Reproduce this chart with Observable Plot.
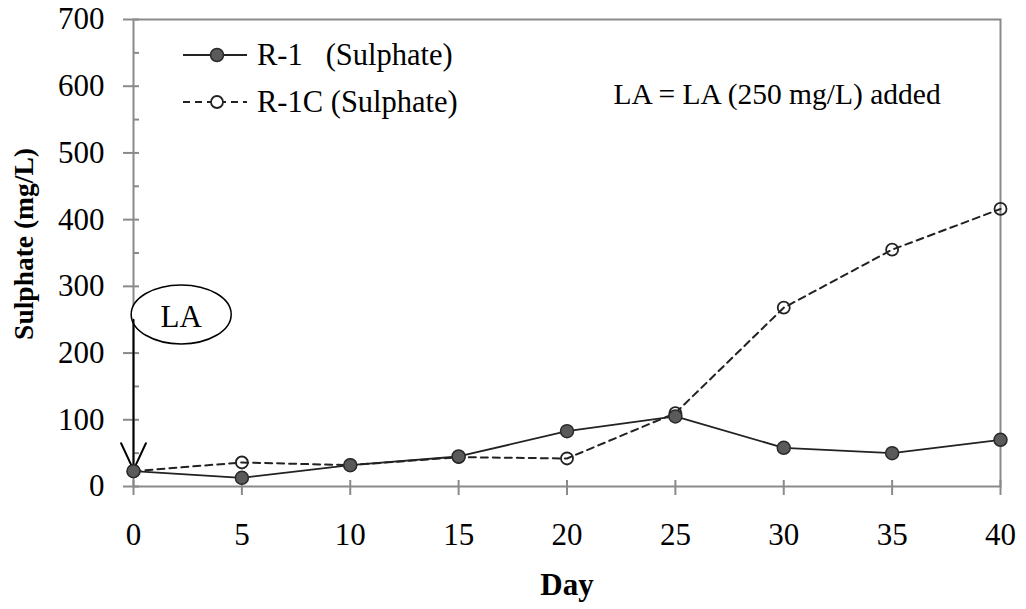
<!DOCTYPE html>
<html><head><meta charset="utf-8">
<script src="https://cdn.jsdelivr.net/npm/d3@7"></script>
<script src="https://cdn.jsdelivr.net/npm/@observablehq/plot@0.6"></script>
<style>
body{margin:0;background:#fff}
#chart{width:1026px;height:609px}
</style>
</head><body><div id="chart"></div>
<script>
// ---- data ----
const days = [0, 5, 10, 15, 20, 25, 30, 35, 40];
const r1 = [23, 13, 32, 45, 83, 105, 58, 50, 70];        // R-1 (Sulphate)
const r1c = [23, 36, 32, 44, 42, 110, 268, 355, 416];    // R-1C (Sulphate)
const seriesNames = ["R-1   (Sulphate)", "R-1C (Sulphate)"];
const xTicks = [0, 5, 10, 15, 20, 25, 30, 35, 40];
const yTicks = [0, 100, 200, 300, 400, 500, 600, 700];
const yMinor = [50, 150, 250, 350, 450, 550, 650];
const xLabel = "Day";
const yLabel = "Sulphate (mg/L)";
const note = "LA = LA (250 mg/L) added";
const laText = ["LA"];
const laDay = [0];
const laFrom = [250];
const laTo = [25];
const laBubbleX = [2.2];
const laBubbleY = [258];

// ---- tables ----
const rowsR1 = days.map((d, i) => ({day: d, v: r1[i]}));
const rowsR1C = days.map((d, i) => ({day: d, v: r1c[i]}));
const arrowRows = laDay.map((d, i) => ({x: d, y1: laFrom[i], y2: laTo[i]}));
const bubbleRows = laBubbleX.map((x, i) => ({x, y: laBubbleY[i], t: laText[i]}));

const gray = "#8a8a8a";
const serif = "'Liberation Serif', 'Times New Roman', serif";

const ellipseSymbol = {
  draw(ctx) {
    const rx = 50, ry = 29.5, k = 0.5523;
    ctx.moveTo(rx, 0);
    ctx.bezierCurveTo(rx, ry * k, rx * k, ry, 0, ry);
    ctx.bezierCurveTo(-rx * k, ry, -rx, ry * k, -rx, 0);
    ctx.bezierCurveTo(-rx, -ry * k, -rx * k, -ry, 0, -ry);
    ctx.bezierCurveTo(rx * k, -ry, rx, -ry * k, rx, 0);
    ctx.closePath();
  }
};

const plot = Plot.plot({
  width: 1026,
  height: 609,
  marginLeft: 133,
  marginRight: 26,
  marginTop: 19,
  marginBottom: 123,
  style: {fontFamily: serif, fontSize: "31px", color: "#000", background: "#fff"},
  x: {domain: [0, 40]},
  y: {domain: [0, 700]},
  marks: [
    Plot.frame({stroke: gray, strokeWidth: 2}),
    Plot.ruleX(xTicks, {x: d => d, y1: 0, y2: 0, insetTop: -6, insetBottom: -9, stroke: gray, strokeWidth: 2}),
    Plot.ruleY(yTicks, {y: d => d, x1: 0, x2: 0, insetLeft: -10, insetRight: -6, stroke: gray, strokeWidth: 2}),
    Plot.ruleY(yMinor, {y: d => d, x1: 0, x2: 0, insetLeft: 0, insetRight: -6, stroke: gray, strokeWidth: 2}),
    Plot.axisX(xTicks, {tickSize: 0, tickPadding: 36, fontSize: 31, label: null}),
    Plot.axisY(yTicks, {tickSize: 0, tickPadding: 29, fontSize: 31, label: null}),
    Plot.text([xLabel], {frameAnchor: "bottom", dy: 108, fontWeight: "bold", fontSize: 31}),
    Plot.text([yLabel], {frameAnchor: "left", textAnchor: "middle", dx: -109, dy: -9, rotate: -90, fontWeight: "bold", fontSize: 27.5}),
    Plot.text([note], {frameAnchor: "top-left", dx: 480, dy: 64, textAnchor: "start", fontSize: 29.5}),
    // LA bubble and arrow
    Plot.dot(bubbleRows, {x: "x", y: "y", symbol: ellipseSymbol, r: 10, fill: "white", stroke: "#000", strokeWidth: 1.5}),
    Plot.text(bubbleRows, {x: "x", y: "y", text: "t", fontSize: 31, dy: 3}),
    Plot.arrow(arrowRows, {x1: "x", x2: "x", y1: "y1", y2: "y2", stroke: "#000", strokeWidth: 2, headLength: 22, headAngle: 50}),
    // R-1C dashed with open circles
    Plot.line(rowsR1C, {x: "day", y: "v", stroke: "#222", strokeWidth: 2, strokeDasharray: "7,5"}),
    Plot.dot(rowsR1C, {x: "day", y: "v", r: 6, fill: "none", stroke: "#222", strokeWidth: 1.8}),
    // R-1 solid with filled circles
    Plot.line(rowsR1, {x: "day", y: "v", stroke: "#222", strokeWidth: 1.8}),
    Plot.dot(rowsR1, {x: "day", y: "v", r: 6.5, fill: "#5a5a5a", stroke: "#2a2a2a", strokeWidth: 1.5})
  ]
});

// legend (inside plot area, top-left)
const svg = d3.select(plot);
const lg = svg.append("g").attr("font-family", serif).attr("font-size", 30.5).attr("text-anchor", "start");
const rowsY = [55, 102];
rowsY.forEach((yy, i) => {
  lg.append("line").attr("x1", 183).attr("x2", 247).attr("y1", yy).attr("y2", yy)
    .attr("stroke", "#222").attr("stroke-width", i === 0 ? 1.8 : 2)
    .attr("stroke-dasharray", i === 0 ? null : "7,5");
  lg.append("circle").attr("cx", 217).attr("cy", yy).attr("r", i === 0 ? 6.5 : 6)
    .attr("fill", i === 0 ? "#5a5a5a" : "white").attr("stroke", i === 0 ? "#2a2a2a" : "#222")
    .attr("stroke-width", i === 0 ? 1.5 : 1.8);
  lg.append("text").attr("x", 257).attr("y", yy).attr("dy", "0.34em")
    .attr("text-anchor", "start")
    .style("white-space", "pre").attr("fill", "#000").text(seriesNames[i]);
});

document.getElementById("chart").appendChild(plot);
</script>
</body></html>
